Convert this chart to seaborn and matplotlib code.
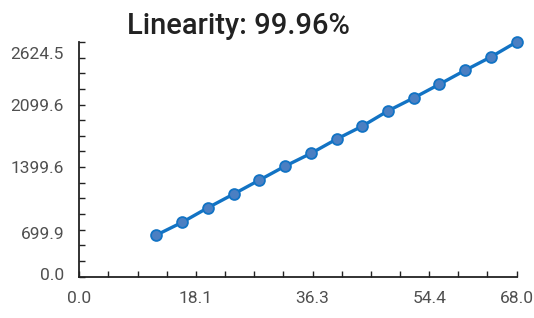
import matplotlib
matplotlib.use("Agg")
import matplotlib.pyplot as plt
import matplotlib.ticker as mticker
import matplotlib.transforms as mtrans
import seaborn as sns
import pandas as pd

# dane
x_vals = [12, 16, 20, 24, 28, 32, 36, 40, 44, 48, 52, 56, 60, 64, 68]
y_vals = [466, 608, 771, 924, 1080, 1236, 1378, 1538, 1683, 1854, 1999, 2152, 2308, 2457, 2624.5]

x_max = 68.0
y_max = 2624.5
x_tick_labels = ["0.0", "18.1", "36.3", "54.4", "68.0"]
y_tick_labels = ["0.0", "699.9", "1399.6", "2099.6", "2624.5"]
labelled_steps = [0, 4, 8, 12, 15]
n_steps = 15
title = "Linearity: 99.96%"

sns.set_style("ticks")
plt.rcParams["font.family"] = ["Roboto", "DejaVu Sans"]

df = pd.DataFrame({"x": x_vals, "y": y_vals})

fig = plt.figure(figsize=(5.34, 3.18), dpi=100)
ax = fig.add_axes([0.1485, 0.13, 0.819, 0.738])

sns.lineplot(data=df, x="x", y="y", ax=ax, color="#1273c4", linewidth=2.4,
             marker="o", markersize=7.8, markerfacecolor="#4b7fc2",
             markeredgecolor="#1273c4", markeredgewidth=1.3, clip_on=False)

ax.set_xlim(0, x_max)
ax.set_ylim(0, y_max)

# podziałka co 1/15 zakresu, opisy tylko na wybranych
xt = [x_max * k / n_steps for k in range(n_steps + 1)]
yt = [y_max * k / n_steps for k in range(n_steps + 1)]
xl = [""] * (n_steps + 1)
yl = [""] * (n_steps + 1)
for k, lx, ly in zip(labelled_steps, x_tick_labels, y_tick_labels):
    xl[k] = lx
    yl[k] = ly
ax.xaxis.set_major_locator(mticker.FixedLocator(xt))
ax.xaxis.set_major_formatter(mticker.FixedFormatter(xl))
ax.yaxis.set_major_locator(mticker.FixedLocator(yt))
ax.yaxis.set_major_formatter(mticker.FixedFormatter(yl))

ax.tick_params(direction="in", length=4, width=1.0, color="#222222",
               labelsize=12.5, labelcolor="#505050")
ax.tick_params(axis="x", pad=10)
ax.tick_params(axis="y", pad=11)

# w oryginale opisy osi Y sa lekko przesuniete w dol
y_shift_px = {0: -3, 4: 19, 8: 16, 12: 16, 15: 11}
ticks = ax.yaxis.get_major_ticks()
for k, dy in y_shift_px.items():
    off = mtrans.ScaledTranslation(0, -dy / 100, fig.dpi_scale_trans)
    ticks[k].label1.set_transform(ticks[k].label1.get_transform() + off)

sns.despine(ax=ax)
for s in ["left", "bottom"]:
    ax.spines[s].set_linewidth(1.3)
    ax.spines[s].set_color("#222222")

ax.set_xlabel("")
ax.set_ylabel("")

fig.text(0.447, 0.918, title, ha="center", va="center", fontsize=21,
         fontweight="medium", color="#222222")

fig.savefig("out.png", dpi=100)
